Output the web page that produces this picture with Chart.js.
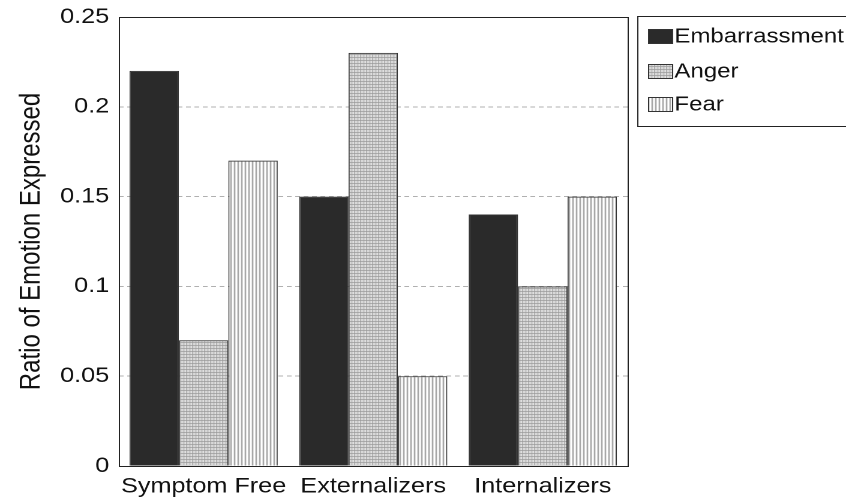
<!DOCTYPE html>
<html>
<head>
<meta charset="utf-8">
<script src="https://cdn.jsdelivr.net/npm/chart.js@4/dist/chart.umd.min.js"></script>
<style>
  html, body { margin: 0; padding: 0; background: #fff; overflow: hidden; }
  #wrap { width: 705px; height: 503px; transform: scaleX(1.2); transform-origin: 0 0; }
</style>
</head>
<body>
<div id="wrap"><canvas id="myChart" width="705" height="503"></canvas></div>
<script>
// data
const groups = ['Symptom Free', 'Externalizers', 'Internalizers'];
const seriesNames = ['Embarrassment', 'Anger', 'Fear'];
const embarrassment = [0.22, 0.15, 0.14];
const anger = [0.07, 0.23, 0.10];
const fear = [0.17, 0.05, 0.15];
const yTicks = [0, 0.05, 0.1, 0.15, 0.2, 0.25];

const FONT = '"Liberation Sans", Arial, sans-serif';

// fill patterns
function makePattern(w, h, draw) {
  let c = document.createElement('canvas');
  c.width = w; c.height = h;
  let g = c.getContext('2d');
  g.fillStyle = '#fff';
  g.fillRect(0, 0, w, h);
  draw(g);
  return g.createPattern(c, 'repeat');
}

const gridPattern = makePattern(5, 3, function (g) {
  g.fillStyle = '#9a9a9a';
  g.fillRect(0, 0, 5, 1);
  g.fillRect(0, 0, 1, 3);
  g.fillRect(2.5, 0, 1, 3);
});

const stripePattern = makePattern(3, 4, function (g) {
  g.fillStyle = '#8a8a8a';
  g.fillRect(0, 0, 1, 4);
});

const fills = ['#2a2a2a', gridPattern, stripePattern];

const data = {
  labels: groups,
  datasets: [
    { label: seriesNames[0], data: embarrassment, backgroundColor: fills[0] },
    { label: seriesNames[1], data: anger, backgroundColor: fills[1] },
    { label: seriesNames[2], data: fear, backgroundColor: fills[2] }
  ]
};

// box round the plot and a boxed legend on the right
const framePlugin = {
  id: 'frame',
  afterDraw(chart) {
    const ctx = chart.ctx;
    const a = chart.chartArea;
    ctx.save();
    ctx.strokeStyle = '#222';
    ctx.lineWidth = 1;
    ctx.strokeRect(Math.round(a.left) + 0.5, Math.round(a.top) + 0.5,
      Math.round(a.right - a.left), Math.round(a.bottom - a.top));

    // legend
    const lx = 531, ly = 16;
    ctx.strokeRect(lx + 0.5, ly + 0.5, 200, 110);
    const rows = [36, 71, 104];
    ctx.font = '20px ' + FONT;
    ctx.textBaseline = 'middle';
    chart.data.datasets.forEach(function (ds, i) {
      ctx.fillStyle = ds.backgroundColor;
      ctx.fillRect(540, rows[i] - 7, 20, 15);
      ctx.strokeStyle = '#333';
      ctx.strokeRect(540.5, rows[i] - 6.5, 20, 14);
      ctx.fillStyle = '#111';
      ctx.fillText(ds.label, 562, rows[i] + 1);
    });
    ctx.restore();
  }
};

const conf = {
  type: 'bar',
  data: data,
  options: {
    responsive: false,
    animation: false,
    devicePixelRatio: 2,
    layout: { padding: { top: 17, right: 182, left: 0, bottom: 0 } },
    datasets: {
      bar: {
        categoryPercentage: 0.874,
        barPercentage: 1.0,
        borderColor: '#333',
        borderWidth: 1
      }
    },
    plugins: {
      legend: { display: false },
      tooltip: { enabled: false }
    },
    scales: {
      x: {
        grid: { display: false, drawTicks: false },
        border: { display: false },
        ticks: {
          color: '#111',
          font: { family: FONT, size: 21 },
          padding: 8,
          maxRotation: 0,
          minRotation: 0,
          autoSkip: false
        },
        afterFit(scale) { scale.height = 37; }
      },
      y: {
        min: 0,
        max: 0.25,
        afterBuildTicks(scale) { scale.ticks = yTicks.map(v => ({ value: v })); },
        grid: {
          drawTicks: false,
          color: function (c) {
            return (c.tick.value > 0 && c.tick.value < 0.25) ? '#b0b0b0' : 'rgba(0,0,0,0)';
          },
          lineWidth: 1
        },
        border: { display: false, dash: [4, 3] },
        ticks: {
          color: '#111',
          font: { family: FONT, size: 21 },
          padding: 8,
          callback: v => String(v)
        },
        title: {
          display: true,
          text: 'Ratio of Emotion Expressed',
          color: '#111',
          font: { family: FONT, size: 24 },
          padding: { top: 12, bottom: 4 }
        },
        afterFit(scale) {
          scale.width = 99;
          scale.paddingTop = 0;
          scale.paddingBottom = 0;
        }
      }
    }
  },
  plugins: [framePlugin]
};

const myChart = new Chart(document.getElementById('myChart'), conf);
</script>
</body>
</html>
